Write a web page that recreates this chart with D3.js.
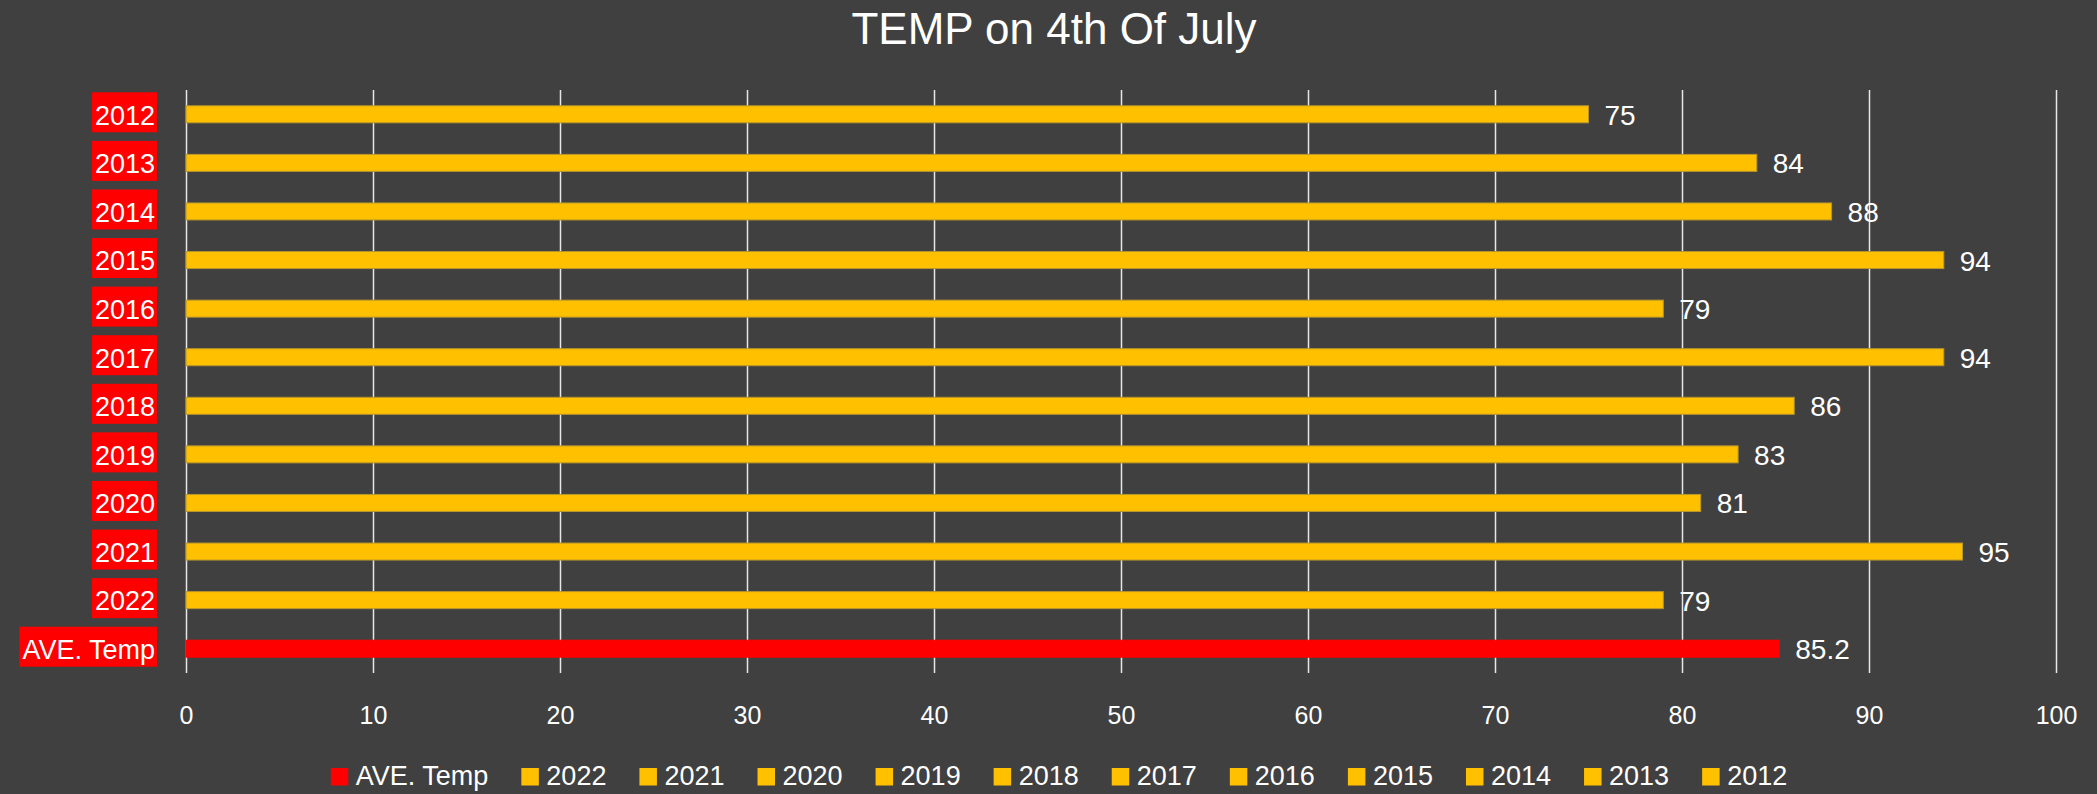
<!DOCTYPE html>
<html>
<head>
<meta charset="utf-8">
<script src="https://cdn.jsdelivr.net/npm/d3@7"></script>
<style>
  body { margin: 0; background: #404040; }
  text { font-family: "Liberation Sans", Arial, sans-serif; fill: #ffffff; }
</style>
</head>
<body>
<script>
// chart data
var categories = ["2012", "2013", "2014", "2015", "2016", "2017", "2018", "2019", "2020", "2021", "2022", "AVE. Temp"];
var temps = [75, 84, 88, 94, 79, 94, 86, 83, 81, 95, 79, 85.2];
var tickVals = [0, 10, 20, 30, 40, 50, 60, 70, 80, 90, 100];
var legendNames = ["AVE. Temp", "2022", "2021", "2020", "2019", "2018", "2017", "2016", "2015", "2014", "2013", "2012"];
var title = "TEMP on 4th Of July";

var W = 2097, H = 794;
var yellow = "#ffc000", red = "#ff0000";

var svg = d3.select("body").append("svg")
  .attr("width", W)
  .attr("height", H);

svg.append("rect").attr("width", W).attr("height", H).attr("fill", "#404040");

var x = d3.scaleLinear().domain([0, 100]).range([186, 2056]);
var y = d3.scaleBand().domain(categories).range([90, 673])
  .paddingInner(0.65).paddingOuter(0.325);

function colorOf(name) { return name == "AVE. Temp" ? red : yellow; }

// title
svg.append("text")
  .attr("x", 1054).attr("y", 44)
  .attr("text-anchor", "middle")
  .style("font-size", "44px")
  .text(title);

// gridlines + tick labels
var axis = svg.append("g")
  .attr("transform", "translate(0,673)")
  .call(d3.axisBottom(x).tickValues(tickVals).tickSize(-(673 - 90)).tickPadding(33));
axis.select(".domain").remove();
axis.selectAll("line").attr("stroke", "#e6e6e6").attr("stroke-width", 1.5);
axis.selectAll("text")
  .attr("fill", "#ffffff")
  .style("font-family", "'Liberation Sans', Arial, sans-serif")
  .style("font-size", "25px");

// bars
svg.selectAll("rect.bar")
  .data(categories)
  .enter()
    .append("rect")
    .attr("class", "bar")
    .attr("x", x(0))
    .attr("y", function(d) { return y(d); })
    .attr("width", function(d, i) { return x(temps[i]) - x(0); })
    .attr("height", y.bandwidth())
    .attr("fill", function(d) { return colorOf(d); })
    .attr("stroke", function(d) { return d == "AVE. Temp" ? red : "#b8962e"; })
    .attr("stroke-width", 1);

// value labels
svg.selectAll("text.val")
  .data(categories)
  .enter()
    .append("text")
    .attr("class", "val")
    .attr("x", function(d, i) { return x(temps[i]) + 16; })
    .attr("y", function(d) { return y(d) + y.bandwidth() / 2 + 10.5; })
    .style("font-size", "28px")
    .text(function(d, i) { return temps[i]; });

// category labels with red boxes
var catG = svg.selectAll("g.cat")
  .data(categories)
  .enter()
    .append("g")
    .attr("class", "cat");

catG.append("rect")
  .attr("fill", red);

catG.append("text")
  .attr("x", 155)
  .attr("y", function(d) { return y(d) + y.bandwidth() / 2 + 10.3; })
  .attr("text-anchor", "end")
  .style("font-size", "27px")
  .text(function(d) { return d; });

catG.each(function(d) {
  var g = d3.select(this);
  var len = g.select("text").node().getComputedTextLength();
  var cy = y(d) + y.bandwidth() / 2;
  g.select("rect")
    .attr("x", 155 - len - 3)
    .attr("width", len + 5)
    .attr("y", cy - 22)
    .attr("height", 40);
});

// legend
var leg = svg.append("g");
var legItems = leg.selectAll("g")
  .data(legendNames)
  .enter()
    .append("g");

legItems.append("rect")
  .attr("width", 17.5).attr("height", 17.5)
  .attr("y", 768)
  .attr("fill", function(d) { return colorOf(d); });

legItems.append("text")
  .attr("x", 25).attr("y", 785)
  .style("font-size", "27px")
  .text(function(d) { return d; });

var pos = 0, gap = 33;
var offsets = [];
legItems.each(function(d) {
  var len = d3.select(this).select("text").node().getComputedTextLength();
  offsets.push(pos);
  pos += 25 + len + gap;
});
var total = pos - gap;
var start = 1059 - total / 2;
legItems.attr("transform", function(d, i) { return "translate(" + (start + offsets[i]) + ",0)"; });
</script>
</body>
</html>
